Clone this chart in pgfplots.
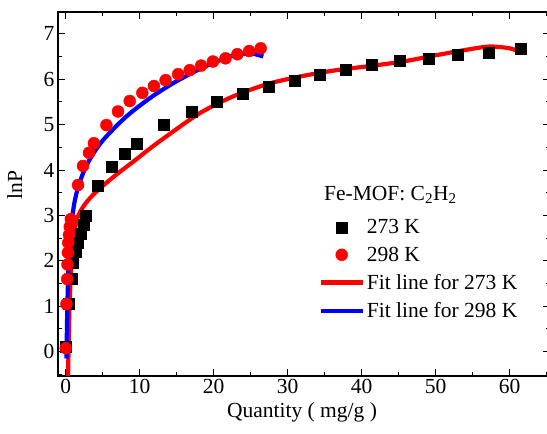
\documentclass[border=0pt]{standalone}
\usepackage{pgfplots}
\pgfplotsset{compat=1.18}
\usepackage{fontspec}
\setmainfont{Liberation Serif}
\begin{document}
\begin{tikzpicture}
\begin{axis}[
  scale only axis, width=492pt, height=364pt,
  xmin=-1.04, xmax=65.45, ymin=-0.535, ymax=7.48,
  xtick={0,10,...,60}, ytick={0,1,...,7},
  minor xtick={5,15,...,65}, minor ytick={-0.5,0.5,...,7},
  tick align=inside, major tick length=7pt, minor tick length=4pt,
  axis line style={line width=1.1pt}, tick style={line width=1pt, black},
  font=\fontsize{21.5}{25}\selectfont,
  /pgf/number format/assume math mode=true,
  xlabel={Quantity ( mg/g )}, ylabel={lnP},
  xlabel style={at={(axis description cs:0.496,-0.099)}, anchor=center},
  ylabel style={at={(axis description cs:-0.088,0.525)}, anchor=center, rotate=0},
  legend style={draw=none, fill=none, at={(axis cs:33.75,3.0)}, anchor=north west,
    font=\fontsize{21.5}{25}\selectfont, row sep=7.5pt},
  legend cell align=left,
  legend image code/.code={\draw[mark repeat=2,mark phase=2,#1] plot coordinates {(0pt,0pt) (21pt,0pt) (42pt,0pt)};},
]
\addplot[only marks, mark=square*, mark size=5.5pt, black] coordinates {
(0.05,0.12)(0.35,1.05)(0.75,1.6)(1.0,1.95)(1.3,2.2)(1.6,2.4)(2.0,2.6)(2.4,2.8)(2.7,3.0)
(4.36,3.65)(6.26,4.07)(7.97,4.37)(9.55,4.59)(13.24,4.99)(16.99,5.29)(20.45,5.51)(23.96,5.69)
(27.5,5.84)(30.9,5.97)(34.3,6.09)(37.8,6.22)(41.4,6.33)(45.1,6.40)(49.0,6.46)(53.0,6.54)(57.2,6.59)(61.5,6.67)
};
\addlegendentry{273 K}
\addplot[only marks, mark=*, mark size=6pt, red] coordinates {
(0.0,0.08)(0.1,1.05)(0.2,1.6)(0.25,1.92)(0.3,2.18)(0.35,2.4)(0.45,2.57)(0.55,2.75)(0.7,2.92)
(1.67,3.67)(2.34,4.09)(3.15,4.38)(3.82,4.59)(5.5,4.99)(7.07,5.29)(8.65,5.52)(10.36,5.70)
(11.93,5.85)(13.5,5.98)(15.2,6.11)(16.76,6.20)(18.3,6.30)(19.9,6.39)(21.6,6.46)(23.2,6.55)(24.8,6.62)(26.35,6.68)
};
\addlegendentry{298 K}
\addplot[red, line width=4.2pt, smooth, tension=0.5, mark=none] coordinates {
(0.3,-0.7)(0.38,0)(0.5,0.9)(0.7,1.7)(1.0,2.45)(1.6,2.95)(2.4,3.2)(3.5,3.42)(5,3.65)(7,3.92)(9.1,4.18)
(11.2,4.45)(13.6,4.74)(18.1,5.25)(22.6,5.62)(27.4,5.9)(32,6.07)(36.6,6.2)(41.1,6.29)(45.6,6.39)(50.1,6.53)
(54.6,6.66)(57.3,6.72)(60,6.68)(61.6,6.59)
};
\addlegendentry{Fit line for 273 K}
\addplot[blue, line width=4.2pt, smooth, tension=0.5, mark=none] coordinates {
(0.1,-0.15)(0.2,0.8)(0.32,1.6)(0.5,2.3)(0.8,2.85)(1.2,3.3)(1.7,3.63)(2.4,3.95)(3.2,4.22)(4.3,4.5)
(5.5,4.74)(8.2,5.18)(11.35,5.58)(14.5,5.91)(17.7,6.19)(20.4,6.39)(22.6,6.52)(24.9,6.57)(26.7,6.5)
};
\addlegendentry{Fit line for 298 K}
\node[anchor=west, font=\fontsize{21.5}{25}\selectfont, inner sep=0pt] at (axis cs:34.9,3.46) {Fe-MOF: C\textsubscript{2}H\textsubscript{2}};
\end{axis}
\pgfresetboundingbox
\path[use as bounding box] ([xshift=-58pt,yshift=-58pt]current axis.south west) rectangle ([xshift=-3pt,yshift=12pt]current axis.north east);
\end{tikzpicture}
\end{document}
